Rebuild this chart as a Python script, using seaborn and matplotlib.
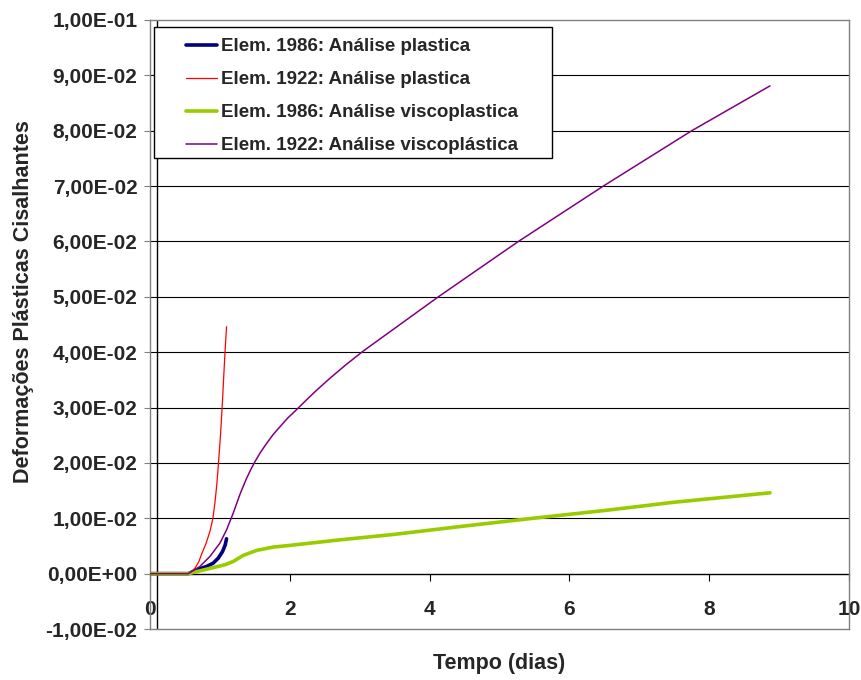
import matplotlib
matplotlib.use("Agg")
import matplotlib.pyplot as plt
from matplotlib.patches import Rectangle
import seaborn as sns
import pandas as pd

# ---- data ----
t_blue = [0, 0.55, 0.69, 0.81, 0.905, 0.976, 1.038, 1.076, 1.095]
v_blue = [0, 0, 0.0008, 0.0013, 0.0019, 0.0028, 0.0040, 0.0052, 0.0063]

t_red = [0, 0.548, 0.60, 0.65, 0.70, 0.738, 0.80, 0.857, 0.90, 0.929, 0.955, 0.976,
         1.010, 1.038, 1.062, 1.080, 1.095]
v_red = [0, 0, 0.0004, 0.0011, 0.0022, 0.0035, 0.0054, 0.0076, 0.0100, 0.0128, 0.0160,
         0.0193, 0.0253, 0.0314, 0.0374, 0.0415, 0.0446]

t_green = [0, 0.548, 0.81, 1.073, 1.19, 1.335, 1.526, 1.764, 2.0, 2.715, 3.5, 4.5, 5.48, 6.5, 7.5, 8.87]
v_green = [0, 0, 0.0008, 0.0016, 0.0022, 0.0033, 0.0042, 0.0048, 0.0051, 0.0061,
           0.0071, 0.0086, 0.0100, 0.0114, 0.0129, 0.0146]

t_purple = [0, 0.548, 0.714, 0.857, 1.0, 1.095, 1.19, 1.286, 1.381, 1.45, 1.5, 1.58, 1.667,
            1.76, 1.857, 1.97, 2.095, 2.24, 2.381, 2.575, 2.8, 3.05, 4.125, 5.27, 6.485,
            7.75, 8.87]
v_purple = [0, 0, 0.0013, 0.0031, 0.0055, 0.0079, 0.0109, 0.0143, 0.0172, 0.0190, 0.0202,
            0.0219, 0.0235, 0.0251, 0.0265, 0.0281, 0.0296, 0.0314, 0.0331, 0.0353,
            0.0377, 0.0402, 0.0500, 0.0600, 0.0700, 0.0800, 0.0881]

labels = ["Elem. 1986: Análise plastica",
          "Elem. 1922: Análise plastica",
          "Elem. 1986: Análise viscoplastica",
          "Elem. 1922: Análise viscoplástica"]

y_ticks = [-0.01, 0.0, 0.01, 0.02, 0.03, 0.04, 0.05, 0.06, 0.07, 0.08, 0.09, 0.10]
x_ticks = [0, 2, 4, 6, 8, 10]

# ---- style ----
sns.set_theme(style="white")
plt.rcParams["font.family"] = ["Liberation Sans", "DejaVu Sans"]

fig = plt.figure(figsize=(8.62, 6.8), dpi=100)
ax = fig.add_axes([150 / 862, 1 - 629 / 680, 699 / 862, 609 / 680])

series = [
    (t_blue, v_blue, "#000080", 2.6),
    (t_red, v_red, "#FF0000", 0.9),
    (t_green, v_green, "#99CC00", 2.6),
    (t_purple, v_purple, "#800080", 1.1),
]
for (t, v, c, lw), lab in zip(series, labels):
    df = pd.DataFrame({"t": t, "v": v})
    sns.lineplot(data=df, x="t", y="v", color=c, linewidth=lw, sort=False,
                 estimator=None, ax=ax, zorder=4, label=lab)

ax.set_xlim(0, 10)
ax.set_ylim(-0.01, 0.10)

# grid
for y in y_ticks[2:-1]:
    ax.axhline(y, color="black", linewidth=0.8, zorder=1)
ax.axvline(0.1, color="black", linewidth=1.0, zorder=2)

# frame
for s in ax.spines.values():
    s.set_color("#808080")
    s.set_linewidth(1.0)
    s.set_visible(True)

# y axis
ax.set_yticks(y_ticks)
ax.set_yticklabels([f"{v:.2E}".replace(".", ",") for v in y_ticks],
                   fontsize=15, fontweight="bold")
ax.tick_params(axis="y", direction="out", length=4, width=0.8, color="#808080",
               pad=5, left=True)
ax.set_ylabel("")
fig.text(24 / 862, 1 - 301.5 / 680, "Deformações Plásticas Cisalhantes", rotation=90,
         ha="center", va="center", fontsize=15.5, fontweight="bold")

# x axis at y = 0
ax.set_xticks([])
ax.set_xlabel("")
frac0 = (0 - (-0.01)) / 0.11
sec = ax.secondary_xaxis(frac0)
sec.set_xticks(x_ticks)
sec.set_xticklabels([str(x) for x in x_ticks], fontsize=15, fontweight="bold")
sec.spines["bottom"].set_color("black")
sec.spines["bottom"].set_linewidth(1.0)
sec.tick_params(axis="x", direction="out", length=5, width=0.8, color="black", pad=14)
fig.text((150 + 849) / 2 / 862, 1 - 663 / 680, "Tempo (dias)", ha="center",
         va="center", fontsize=15.5, fontweight="bold")

# legend
ax.get_legend().remove()
box = Rectangle((4 / 699, (629 - 158) / 609), 398 / 699, 131 / 609,
                transform=ax.transAxes, facecolor="white", edgecolor="black",
                linewidth=1.0, zorder=5)
ax.add_patch(box)
h, l = ax.get_legend_handles_labels()
leg = ax.legend(h, l, loc="upper left", bbox_to_anchor=(36 / 699, (629 - 38) / 609),
                frameon=False, prop={"size": 13.5, "weight": "bold"},
                handlelength=1.65, handletextpad=0.22, labelspacing=0.85,
                borderpad=0, borderaxespad=0)
leg.set_zorder(6)

fig.savefig("out.png", dpi=100)
